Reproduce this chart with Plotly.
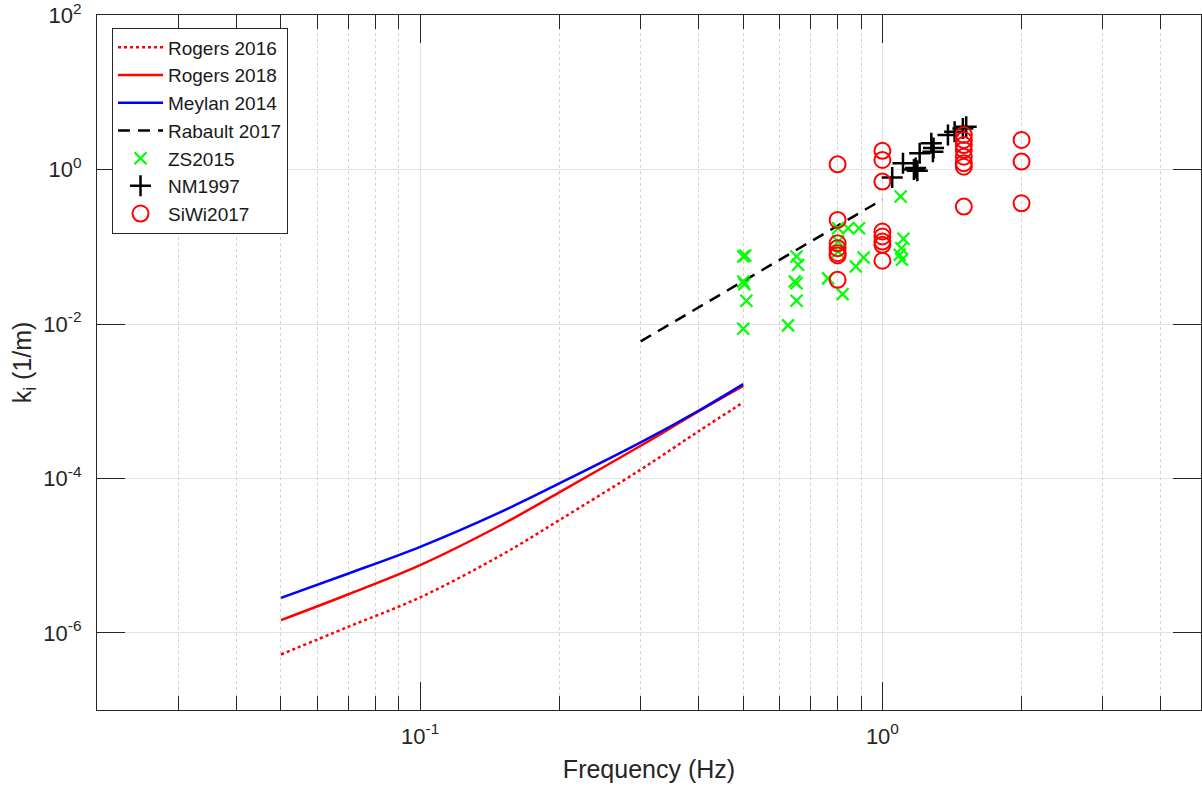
import plotly.graph_objects as go
import math

# ---- data ----
model_freq = [0.05, 0.07, 0.1, 0.15, 0.2, 0.3, 0.4, 0.5]
rogers2016 = [5.24e-7, 1.20e-6, 2.88e-6, 1.02e-5, 2.88e-5, 1.30e-4, 4.07e-4, 9.66e-4]
rogers2018 = [1.46e-6, 3.16e-6, 7.53e-6, 2.51e-5, 6.61e-5, 2.65e-4, 7.38e-4, 1.58e-3]
meylan2014 = [2.84e-6, 5.87e-6, 1.30e-5, 3.72e-5, 8.61e-5, 2.93e-4, 7.53e-4, 1.667e-3]

rabault_freq = [0.3, 1.0]
rabault2017 = [5.96e-3, 0.41]

zs_freq = [0.5, 0.505, 0.5, 0.503, 0.508, 0.5,
           0.652, 0.657, 0.646, 0.652, 0.652, 0.625,
           0.802, 0.843, 0.89, 0.802, 0.802, 0.763, 0.82, 0.876, 0.911,
           1.095, 1.11, 1.099, 1.09, 1.102]
zs2015 = [0.075, 0.077, 0.0356, 0.0328, 0.020, 0.0087,
          0.075, 0.0585, 0.0356, 0.0338, 0.020, 0.0096,
          0.174, 0.174, 0.174, 0.117, 0.087, 0.039, 0.0244, 0.0556, 0.0727,
          0.448, 0.127, 0.096, 0.0788, 0.068]

nm_freq = [1.05, 1.108, 1.17, 1.18, 1.19, 1.204, 1.276, 1.286, 1.29, 1.386, 1.433, 1.493, 1.518]
nm1997 = [0.79, 1.21, 1.0, 1.05, 0.97, 1.63, 2.19, 1.71, 1.9, 2.81, 3.1, 3.42, 3.6]

siwi_freq = [0.8, 0.8, 0.8, 0.8, 0.8, 0.8, 0.8,
             1.0, 1.0, 1.0, 1.0, 1.0, 1.0, 1.0, 1.0,
             1.5, 1.5, 1.5, 1.5, 1.5, 1.5, 1.5, 1.5,
             2.0, 2.0, 2.0]
siwi2017 = [1.17, 0.223, 0.111, 0.096, 0.0827, 0.0772, 0.0374,
            1.75, 1.335, 0.70, 0.158, 0.136, 0.117, 0.106, 0.066,
            2.81, 2.42, 2.08, 1.80, 1.47, 1.21, 1.09, 0.332,
            2.42, 1.27, 0.366]

x_major = [0.1, 1.0]
x_major_text = ["10<sup>-1</sup>", "10<sup>0</sup>"]
x_minor = [0.03, 0.04, 0.05, 0.06, 0.07, 0.08, 0.09,
           0.2, 0.3, 0.4, 0.5, 0.6, 0.7, 0.8, 0.9, 2, 3, 4]
y_major = [1e-6, 1e-4, 1e-2, 1, 1e2]
y_major_text = ["10<sup>-6</sup>", "10<sup>-4</sup>", "10<sup>-2</sup>", "10<sup>0</sup>", "10<sup>2</sup>"]

AX = "#262626"
FONT = "Liberation Sans, Arial, Helvetica, sans-serif"

fig = go.Figure()
fig.add_trace(go.Scatter(x=model_freq, y=rogers2016, mode="lines", name="Rogers 2016",
                         line=dict(color="#ff0000", width=2.5, dash="dot", shape="spline", smoothing=1)))
fig.add_trace(go.Scatter(x=model_freq, y=rogers2018, mode="lines", name="Rogers 2018",
                         line=dict(color="#ff0000", width=2.5, shape="spline", smoothing=1)))
fig.add_trace(go.Scatter(x=model_freq, y=meylan2014, mode="lines", name="Meylan 2014",
                         line=dict(color="#0000ff", width=2.5, shape="spline", smoothing=1)))
fig.add_trace(go.Scatter(x=rabault_freq, y=rabault2017, mode="lines", name="Rabault 2017",
                         line=dict(color="#000000", width=2.5, dash="12px,8px")))
fig.add_trace(go.Scatter(x=zs_freq, y=zs2015, mode="markers", name="ZS2015",
                         marker=dict(symbol="x-thin-open", size=12, color="#00ff00",
                                     line=dict(color="#00ff00", width=2.2))))
fig.add_trace(go.Scatter(x=nm_freq, y=nm1997, mode="markers", name="NM1997",
                         marker=dict(symbol="cross-thin-open", size=15, color="#000000",
                                     line=dict(color="#000000", width=2.5))))
fig.add_trace(go.Scatter(x=siwi_freq, y=siwi2017, mode="markers", name="SiWi2017",
                         marker=dict(symbol="circle-open", size=16, color="#ff0000",
                                     line=dict(color="#ff0000", width=2))))

x0 = math.log10(0.02)
x1 = x0 + 1105 / 462.7

fig.update_layout(
    width=1202, height=789,
    margin=dict(l=97, r=0, t=13, b=79),
    plot_bgcolor="white", paper_bgcolor="white",
    font=dict(family=FONT, color=AX, size=20),
    showlegend=True,
    legend=dict(x=0.0136, y=0.982, xanchor="left", yanchor="top",
                bordercolor=AX, borderwidth=1, bgcolor="white",
                font=dict(size=19, color="#1a1a1a"),
                itemwidth=45),
    xaxis=dict(type="log", range=[x0, x1],
               showline=True, linecolor=AX, linewidth=1.3, mirror="allticks",
               ticks="inside", ticklen=28, tickwidth=1.3, tickcolor=AX,
               tickvals=x_major, ticktext=x_major_text,
               tickfont=dict(size=22, color=AX), ticklabelstandoff=6,
               showgrid=True, gridcolor="#e2e2e2", gridwidth=1,
               minor=dict(tickvals=x_minor, ticks="inside", ticklen=14, tickwidth=1.3,
                          tickcolor=AX, showgrid=True, gridcolor="#d2d2d2",
                          griddash="dot", gridwidth=1),
               zeroline=False,
               title=dict(text="Frequency (Hz)", font=dict(size=25, color=AX), standoff=12)),
    yaxis=dict(type="log", range=[-7, 2.003],
               showline=True, linecolor=AX, linewidth=1.3, mirror="allticks",
               ticks="inside", ticklen=28, tickwidth=1.3, tickcolor=AX,
               tickvals=y_major, ticktext=y_major_text, ticklabeloverflow="allow",
               tickfont=dict(size=22, color=AX), ticklabelstandoff=10,
               showgrid=True, gridcolor="#e2e2e2", gridwidth=1,
               zeroline=False,
               title=dict(text="k<sub>i</sub> (1/m)", font=dict(size=25, color=AX), standoff=4)),
)

fig.write_html("out.html")
